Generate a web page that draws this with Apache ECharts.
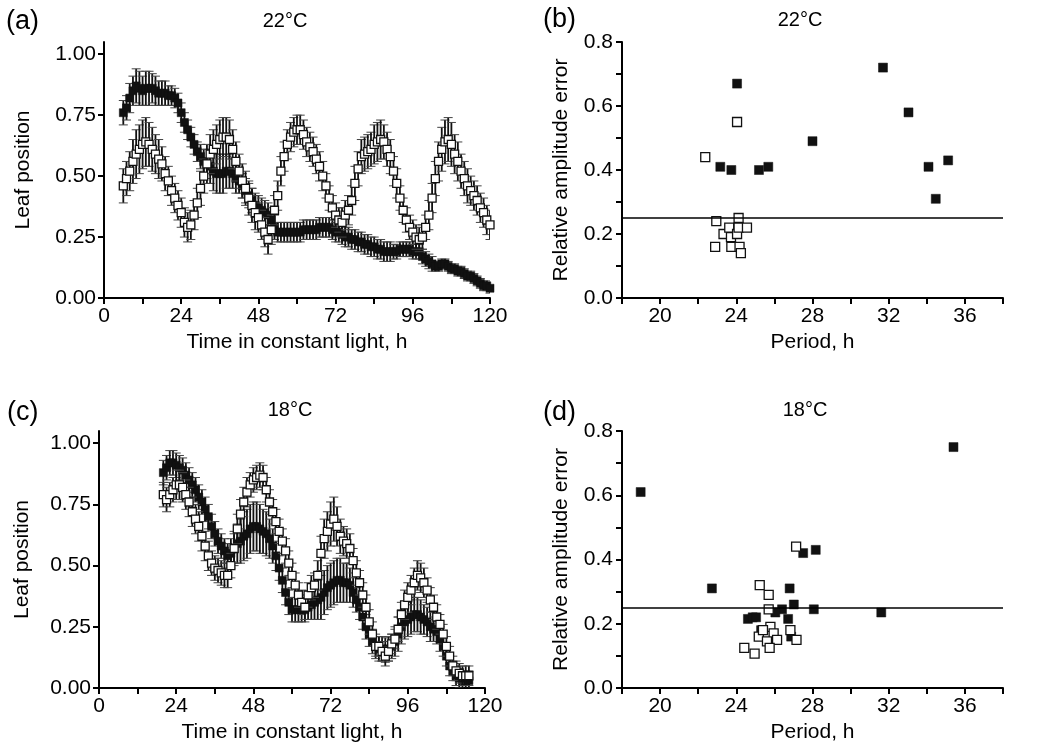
<!DOCTYPE html>
<html><head><meta charset="utf-8">
<script src="https://cdn.jsdelivr.net/npm/echarts@6/dist/echarts.min.js"></script>
<style>html,body{margin:0;padding:0;background:#fff}#c{width:1050px;height:752px}</style>
</head><body><div id="c"></div>
<script>
// ---------- Panel (a) 22°C time series ----------
const timeA = [6,7,8,9,10,11,12,13,14,15,16,17,18,19,20,21,22,23,24,25,26,27,28,29,30,31,32,33,34,35,36,37,38,39,40,41,42,43,44,45,46,47,48,49,50,51,52,53,54,55,56,57,58,59,60,61,62,63,64,65,66,67,68,69,70,71,72,73,74,75,76,77,78,79,80,81,82,83,84,85,86,87,88,89,90,91,92,93,94,95,96,97,98,99,100,101,102,103,104,105,106,107,108,109,110,111,112,113,114,115,116,117,118,119,120];
const openA = [0.46,0.49,0.52,0.56,0.59,0.61,0.63,0.64,0.63,0.61,
0.59,0.57,0.55,0.51,0.48,0.44,0.41,0.38,0.35,0.31,
0.29,0.30,0.34,0.39,0.45,0.50,0.55,0.59,0.61,0.63,
0.65,0.66,0.66,0.65,0.61,0.56,0.52,0.48,0.45,0.41,
0.38,0.35,0.33,0.30,0.27,0.24,0.28,0.36,0.42,0.52,
0.58,0.63,0.66,0.68,0.69,0.69,0.67,0.64,0.62,0.60,
0.57,0.54,0.50,0.46,0.41,0.37,0.34,0.32,0.31,0.34,
0.36,0.40,0.47,0.53,0.58,0.59,0.60,0.61,0.63,0.64,
0.65,0.64,0.61,0.58,0.52,0.47,0.41,0.36,0.32,0.29,
0.27,0.25,0.24,0.25,0.29,0.34,0.41,0.49,0.56,0.61,
0.64,0.65,0.63,0.59,0.56,0.52,0.49,0.46,0.44,0.42,
0.40,0.37,0.35,0.32,0.30];
const openAErr = [0.07,0.07,0.08,0.09,0.10,0.10,0.10,0.10,0.09,0.09,
0.08,0.08,0.07,0.07,0.06,0.06,0.06,0.06,0.06,0.06,
0.06,0.06,0.06,0.06,0.07,0.07,0.08,0.08,0.08,0.08,
0.08,0.08,0.08,0.08,0.08,0.08,0.07,0.07,0.07,0.07,
0.07,0.07,0.06,0.06,0.06,0.06,0.06,0.06,0.06,0.06,
0.06,0.06,0.06,0.06,0.06,0.06,0.06,0.06,0.06,0.06,
0.06,0.06,0.06,0.05,0.05,0.05,0.05,0.05,0.06,0.06,
0.06,0.06,0.07,0.07,0.07,0.07,0.07,0.07,0.08,0.08,
0.08,0.07,0.07,0.07,0.06,0.06,0.05,0.05,0.05,0.05,
0.05,0.05,0.05,0.05,0.05,0.06,0.06,0.07,0.08,0.09,
0.09,0.09,0.09,0.08,0.08,0.07,0.07,0.07,0.06,0.06,
0.06,0.06,0.06,0.06,0.06];
const filledA = [0.76,0.78,0.82,0.85,0.87,0.86,0.85,0.86,0.86,0.86,
0.85,0.84,0.84,0.84,0.83,0.83,0.82,0.80,0.76,0.72,
0.69,0.66,0.63,0.60,0.58,0.56,0.55,0.54,0.52,0.51,
0.51,0.51,0.52,0.52,0.51,0.49,0.48,0.46,0.44,0.42,
0.40,0.38,0.37,0.36,0.35,0.34,0.32,0.29,0.27,0.27,
0.27,0.27,0.27,0.27,0.27,0.27,0.28,0.28,0.28,0.28,
0.28,0.29,0.29,0.29,0.29,0.28,0.27,0.27,0.26,0.25,
0.25,0.24,0.24,0.23,0.23,0.22,0.22,0.21,0.21,0.20,
0.20,0.19,0.19,0.19,0.19,0.19,0.20,0.20,0.20,0.20,
0.19,0.19,0.19,0.17,0.16,0.15,0.14,0.13,0.13,0.14,
0.14,0.13,0.12,0.12,0.11,0.11,0.10,0.09,0.09,0.08,
0.07,0.06,0.05,0.05,0.04];
const filledAErr = [0.05,0.05,0.06,0.06,0.07,0.07,0.06,0.07,0.07,0.06,
0.06,0.05,0.05,0.05,0.04,0.04,0.04,0.04,0.04,0.04,
0.04,0.04,0.04,0.04,0.05,0.05,0.06,0.07,0.08,0.08,
0.08,0.08,0.07,0.07,0.06,0.06,0.05,0.05,0.05,0.05,
0.05,0.05,0.05,0.05,0.05,0.05,0.05,0.05,0.04,0.04,
0.04,0.04,0.04,0.04,0.04,0.04,0.04,0.04,0.04,0.04,
0.04,0.04,0.04,0.04,0.04,0.04,0.04,0.04,0.04,0.04,
0.04,0.04,0.04,0.04,0.04,0.04,0.04,0.04,0.04,0.04,
0.04,0.04,0.04,0.04,0.03,0.03,0.03,0.03,0.03,0.03,
0.03,0.03,0.03,0.03,0.03,0.03,0.03,0.02,0.02,0.02,
0.02,0.02,0.02,0.02,0.02,0.02,0.02,0.02,0.02,0.02,
0.02,0.02,0.02,0.02,0.02];

// ---------- Panel (c) 18°C time series ----------
const timeC = [20,21,22,23,24,25,26,27,28,29,30,31,32,33,34,35,36,37,38,39,40,41,42,43,44,45,46,47,48,49,50,51,52,53,54,55,56,57,58,59,60,61,62,63,64,65,66,67,68,69,70,71,72,73,74,75,76,77,78,79,80,81,82,83,84,85,86,87,88,89,90,91,92,93,94,95,96,97,98,99,100,101,102,103,104,105,106,107,108,109,110,111,112,113,114,115];
const openC = [0.79,0.77,0.79,0.81,0.83,0.83,0.82,0.79,0.76,0.72,
0.69,0.66,0.62,0.58,0.54,0.51,0.49,0.48,0.47,0.46,
0.46,0.50,0.57,0.65,0.71,0.76,0.80,0.83,0.85,0.86,
0.87,0.86,0.81,0.76,0.72,0.68,0.64,0.60,0.56,0.51,
0.46,0.42,0.38,0.35,0.33,0.38,0.41,0.42,0.46,0.55,
0.61,0.64,0.67,0.69,0.66,0.62,0.60,0.59,0.57,0.52,
0.47,0.43,0.38,0.33,0.27,0.22,0.17,0.17,0.15,0.13,
0.15,0.18,0.20,0.24,0.30,0.34,0.37,0.40,0.43,0.46,
0.45,0.43,0.40,0.36,0.33,0.29,0.26,0.22,0.17,0.13,
0.09,0.07,0.06,0.05,0.05,0.05];
const openCErr = [0.05,0.05,0.05,0.05,0.06,0.06,0.06,0.06,0.06,0.06,
0.06,0.06,0.06,0.06,0.06,0.05,0.05,0.05,0.05,0.05,
0.05,0.05,0.06,0.06,0.06,0.06,0.06,0.05,0.05,0.05,
0.05,0.05,0.05,0.05,0.05,0.05,0.05,0.05,0.05,0.05,
0.05,0.05,0.05,0.05,0.05,0.05,0.05,0.05,0.06,0.07,
0.08,0.08,0.09,0.09,0.08,0.07,0.06,0.06,0.06,0.05,
0.05,0.05,0.05,0.05,0.05,0.05,0.04,0.04,0.04,0.04,
0.04,0.04,0.04,0.05,0.05,0.06,0.06,0.06,0.06,0.06,
0.06,0.06,0.05,0.05,0.05,0.05,0.04,0.04,0.04,0.04,
0.04,0.04,0.04,0.04,0.04,0.04];
const filledC = [0.88,0.90,0.92,0.92,0.91,0.90,0.89,0.87,0.85,0.83,
0.81,0.78,0.76,0.73,0.70,0.66,0.63,0.60,0.58,0.56,
0.54,0.55,0.57,0.59,0.60,0.62,0.63,0.65,0.66,0.66,
0.65,0.64,0.63,0.61,0.58,0.54,0.49,0.44,0.39,0.35,
0.32,0.32,0.32,0.32,0.32,0.33,0.34,0.35,0.36,0.37,
0.39,0.41,0.42,0.43,0.44,0.44,0.43,0.43,0.42,0.39,
0.36,0.33,0.29,0.25,0.22,0.19,0.17,0.16,0.16,0.155,
0.16,0.17,0.19,0.22,0.25,0.27,0.28,0.29,0.30,0.30,
0.29,0.28,0.27,0.25,0.24,0.23,0.20,0.17,0.13,0.09,
0.07,0.05,0.04,0.03,0.03,0.03];
const filledCErr = [0.05,0.05,0.05,0.05,0.05,0.05,0.05,0.05,0.05,0.05,
0.05,0.05,0.05,0.05,0.05,0.05,0.05,0.05,0.05,0.05,
0.05,0.06,0.07,0.08,0.09,0.10,0.10,0.10,0.10,0.10,
0.10,0.09,0.09,0.08,0.07,0.06,0.05,0.05,0.05,0.05,
0.05,0.05,0.05,0.05,0.05,0.05,0.06,0.07,0.08,0.09,
0.09,0.09,0.09,0.09,0.09,0.09,0.08,0.08,0.07,0.06,
0.05,0.05,0.05,0.05,0.05,0.05,0.05,0.05,0.05,0.05,
0.05,0.05,0.06,0.07,0.07,0.07,0.07,0.07,0.07,0.07,
0.07,0.06,0.06,0.06,0.05,0.05,0.05,0.04,0.04,0.04,
0.04,0.04,0.04,0.04,0.04,0.04];

// ---------- Panel (b) 22°C period vs amplitude error ----------
const periodBFilled = [24.04,23.16,23.74,25.19,25.68,28.0,31.7,33.04,34.09,35.12,34.47];
const raeBFilled    = [0.67,0.41,0.40,0.40,0.41,0.49,0.72,0.58,0.41,0.43,0.31];
const periodBOpen   = [24.04,22.37,22.95,22.89,23.33,23.63,23.72,23.74,24.04,24.12,24.12,24.56,24.17,24.24];
const raeBOpen      = [0.55,0.44,0.24,0.16,0.20,0.22,0.19,0.16,0.20,0.25,0.22,0.22,0.16,0.14];

// ---------- Panel (d) 18°C period vs amplitude error ----------
const periodDFilled = [18.98,35.4,22.72,27.51,28.17,26.8,27.02,28.07,31.61,26.4,26.05,26.72,26.88,24.61,24.86,25.04,25.3];
const raeDFilled    = [0.61,0.75,0.31,0.42,0.43,0.31,0.26,0.245,0.235,0.245,0.235,0.215,0.16,0.215,0.22,0.22,0.18];
const periodDOpen   = [27.14,25.23,25.7,25.7,25.79,25.96,25.18,25.4,26.14,25.61,25.75,24.42,24.96,26.84,27.16];
const raeDOpen      = [0.44,0.32,0.29,0.245,0.19,0.17,0.16,0.18,0.15,0.145,0.125,0.125,0.107,0.18,0.15];

const threshold = 0.25;

// ---------- tick / label values ----------
const timeTicks = [0,12,24,36,48,60,72,84,96,108,120];
const timeLabels = [0,24,48,72,96,120];
const leafTicks = [0,0.25,0.5,0.75,1.0];
const periodTicks = [18,20,22,24,26,28,30,32,34,36,38];
const periodLabels = [20,24,28,32,36];
const raeTicks = [0,0.1,0.2,0.3,0.4,0.5,0.6,0.7,0.8];
const raeLabels = [0,0.2,0.4,0.6,0.8];

const FONT = "'Liberation Sans', Arial, Helvetica, sans-serif";
const axisLineStyle = {show:true, onZero:false, lineStyle:{color:'#000', width:2}};
const tickStyle = (vals)=>({show:true, customValues:vals, length:6, lineStyle:{color:'#000', width:2}});
const labelStyle = (vals, fmt, margin)=>({show:true, customValues:vals, formatter:fmt, color:'#000', fontSize:21, fontFamily:FONT, margin:margin});

const grids = [
  {left:104, top:42, width:386, height:256},
  {left:622, top:42, width:381, height:256},
  {left:99,  top:431, width:386, height:257},
  {left:622, top:431, width:381, height:257}
];

function timeX(gi){return {gridIndex:gi, type:'value', min:0, max:120, axisLine:axisLineStyle, axisTick:tickStyle(timeTicks), axisLabel:labelStyle(timeLabels, v=>String(v), 8), splitLine:{show:false}, name:'Time in constant light, h', nameLocation:'middle', nameGap:34, nameTextStyle:{color:'#000', fontSize:21, fontFamily:FONT}};}
function leafY(gi, gap){return {gridIndex:gi, type:'value', min:0, max:1.05, axisLine:axisLineStyle, axisTick:tickStyle(leafTicks), axisLabel:labelStyle(leafTicks, v=>v.toFixed(2), 8), splitLine:{show:false}, name:'Leaf position', nameLocation:'middle', nameRotate:90, nameGap:gap, nameTextStyle:{color:'#000', fontSize:21, fontFamily:FONT}};}
function periodX(gi){return {gridIndex:gi, type:'value', min:18, max:38, axisLine:axisLineStyle, axisTick:tickStyle(periodTicks), axisLabel:labelStyle(periodLabels, v=>String(v), 8), splitLine:{show:false}, name:'Period, h', nameLocation:'middle', nameGap:34, nameTextStyle:{color:'#000', fontSize:21, fontFamily:FONT}};}
function raeY(gi){return {gridIndex:gi, type:'value', min:0, max:0.8, axisLine:axisLineStyle, axisTick:tickStyle(raeTicks), axisLabel:labelStyle(raeLabels, v=>v.toFixed(1), 9), splitLine:{show:false}, name:'Relative amplitude error', nameLocation:'middle', nameRotate:90, nameGap:50, nameTextStyle:{color:'#000', fontSize:21, fontFamily:FONT}};}

function errSeries(gi, xs, ys, es, z){
  return {type:'custom', xAxisIndex:gi, yAxisIndex:gi, clip:true, silent:true, z:z,
    data: xs.map((x,i)=>[x, ys[i]-es[i], ys[i]+es[i]]),
    encode:{x:0, y:[1,2]},
    renderItem:(params, api)=>{
      const x = api.value(0);
      const lo = api.coord([x, api.value(1)]);
      const hi = api.coord([x, api.value(2)]);
      const w = 4.5;
      const st = {stroke:'#111', lineWidth:1.8};
      const cap = {stroke:'#444', lineWidth:1};
      return {type:'group', children:[
        {type:'line', shape:{x1:lo[0], y1:lo[1], x2:hi[0], y2:hi[1]}, style:st},
        {type:'line', shape:{x1:lo[0]-w, y1:lo[1], x2:lo[0]+w, y2:lo[1]}, style:cap},
        {type:'line', shape:{x1:hi[0]-w, y1:hi[1], x2:hi[0]+w, y2:hi[1]}, style:cap}
      ]};
    }};
}
function pts(xs, ys){return xs.map((x,i)=>[x, ys[i]]);}
function filledSeries(gi, xs, ys, size, z){
  return {type:'scatter', xAxisIndex:gi, yAxisIndex:gi, symbol:'rect', symbolSize:size, silent:true, z:z,
    itemStyle:{color:'#111', borderColor:'#111', borderWidth:0.5, opacity:1}, data:pts(xs, ys)};
}
function openSeries(gi, xs, ys, size, z){
  return {type:'scatter', xAxisIndex:gi, yAxisIndex:gi, symbol:'rect', symbolSize:size, silent:true, z:z,
    itemStyle:{color:'#fff', borderColor:'#111', borderWidth:1.3, opacity:1}, data:pts(xs, ys)};
}

const series = [
  errSeries(0, timeA, filledA, filledAErr, 2),
  filledSeries(0, timeA, filledA, 8, 3),
  errSeries(0, timeA, openA, openAErr, 4),
  openSeries(0, timeA, openA, 8, 5),

  errSeries(2, timeC, filledC, filledCErr, 2),
  filledSeries(2, timeC, filledC, 8, 3),
  errSeries(2, timeC, openC, openCErr, 4),
  openSeries(2, timeC, openC, 8, 5),

  Object.assign(filledSeries(1, periodBFilled, raeBFilled, 9, 3), {
    markLine:{silent:true, symbol:'none', label:{show:false}, lineStyle:{color:'#000', width:1.5, type:'solid'}, data:[{yAxis:threshold}]}
  }),
  openSeries(1, periodBOpen, raeBOpen, 9, 4),

  Object.assign(filledSeries(3, periodDFilled, raeDFilled, 9, 3), {
    markLine:{silent:true, symbol:'none', label:{show:false}, lineStyle:{color:'#000', width:1.5, type:'solid'}, data:[{yAxis:threshold}]}
  }),
  openSeries(3, periodDOpen, raeDOpen, 9, 4)
];

const txt = (s, x, y, size, align)=>({type:'text', x:x, y:y, style:{text:s, font:size+'px '+FONT, fill:'#000', textAlign:align, textVerticalAlign:'middle'}});

const option = {
  animation:false,
  backgroundColor:'#fff',
  grid: grids,
  xAxis:[timeX(0), periodX(1), timeX(2), periodX(3)],
  yAxis:[leafY(0,70), raeY(1), leafY(2,66), raeY(3)],
  graphic:[
    txt('(a)', 6, 22, 27, 'left'),
    txt('22°C', 285, 21, 20, 'center'),
    txt('(b)', 543, 20, 27, 'left'),
    txt('22°C', 800, 20, 20, 'center'),
    txt('(c)', 7, 413, 27, 'left'),
    txt('18°C', 290, 410, 20, 'center'),
    txt('(d)', 543, 413, 27, 'left'),
    txt('18°C', 805, 410, 20, 'center')
  ],
  series: series
};
const chart = echarts.init(document.getElementById('c'), null, {renderer:'canvas'});
chart.setOption(option);
</script>
</body></html>
